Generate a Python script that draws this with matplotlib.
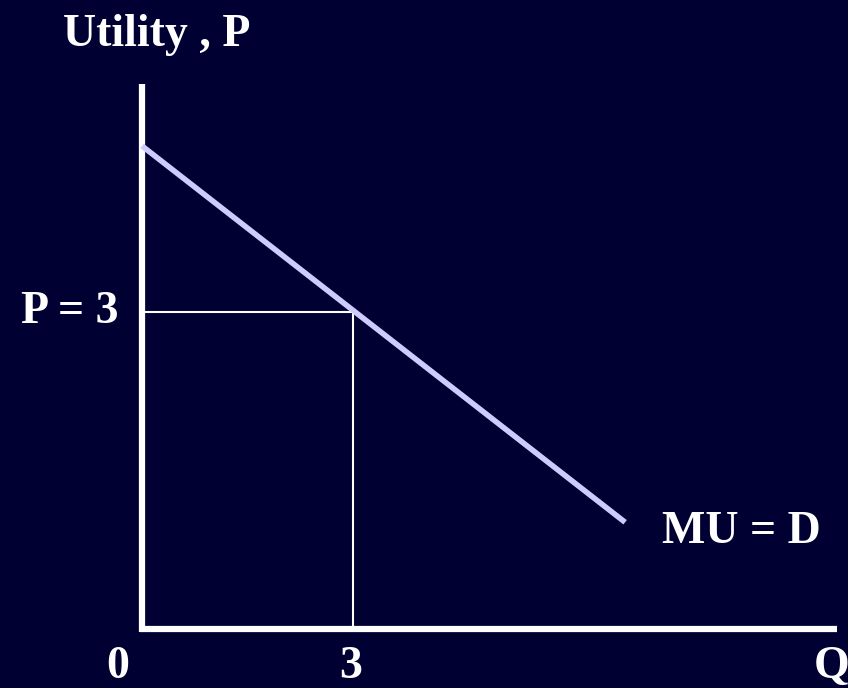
import matplotlib.pyplot as plt
import numpy as np

# marginal utility / demand line (Q, P)
mu_q = [0, 6.87]
mu_p = [4.57, 1.01]

# chosen point
q_star = 3
p_star = 3

bg = '#000033'
plt.rcParams['font.family'] = ['Liberation Serif', 'DejaVu Serif']

fig = plt.figure(figsize=(8.48, 6.88), dpi=100, facecolor=bg)
ax = fig.add_axes([0, 0, 1, 1])
ax.set_facecolor(bg)
ax.set_xlim(-2.02, 10.04)
ax.set_ylim(-0.558, 5.951)
ax.axis('off')

# axes
ax.plot([0, 0], [-0.03, 5.156], color='white', lw=4.5, solid_capstyle='butt')
ax.plot([-0.03, 9.89], [0, 0], color='white', lw=4.5, solid_capstyle='butt')

# guide lines
ax.plot([0, q_star, q_star], [p_star, p_star, 0], color='white', lw=1.5)

# MU = D
ax.plot(mu_q, mu_p, color='#ccccff', lw=4, solid_capstyle='butt')

txt = dict(color='white', fontsize=33, fontweight='bold')
ax.text(-1.12, 5.515, 'Utility , P', ha='left', va='baseline', **txt)
ax.text(-0.33, p_star, 'P = 3', ha='right', va='center', **txt)
ax.text(7.4, 0.81, 'MU = D', ha='left', va='baseline', **txt)
ax.text(-0.34, -0.46, '0', ha='center', va='baseline', **txt)
ax.text(q_star - 0.03, -0.46, '3', ha='center', va='baseline', **txt)
ax.text(9.55, -0.46, 'Q', ha='left', va='baseline', **txt)

fig.savefig('out.png', dpi=100, facecolor=bg)
